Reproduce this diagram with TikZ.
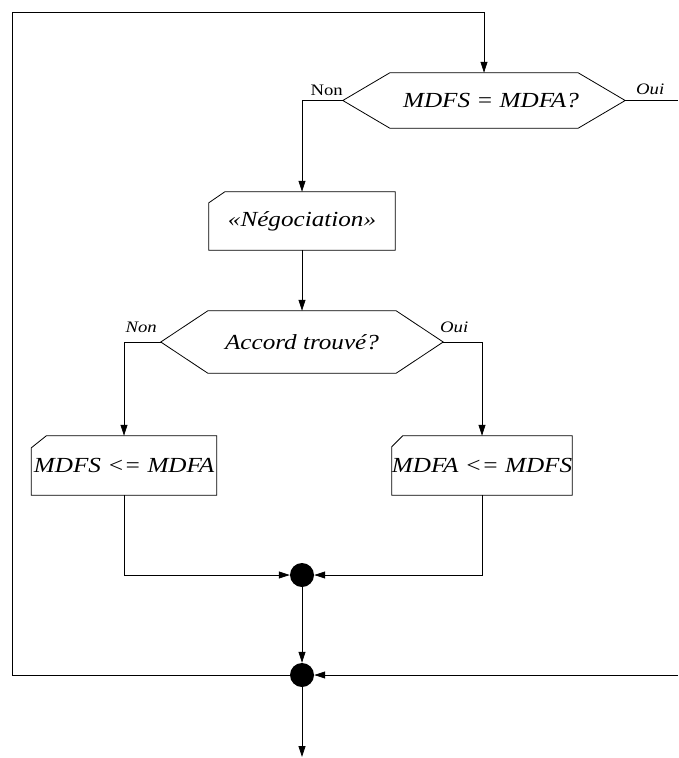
\documentclass[tikz,border=0pt]{standalone}
\usepackage{fontspec}
\setmainfont{Liberation Serif}
\newfontfamily\labfont[FakeStretch=1.17]{Liberation Serif}
\usetikzlibrary{arrows.meta,calc}
\begin{document}
\begin{tikzpicture}[x=1pt,y=-1pt,
  line/.style={line width=0.8pt},
  arr/.style={line, -{Triangle[length=11pt,width=7pt]}},
  txt/.style={font=\labfont\fontsize{21.5}{26}\selectfont\itshape, inner sep=0pt},
  lbl/.style={font=\labfont\fontsize{16}{19}\selectfont, inner sep=0pt},
  dot/.style={circle, fill=black, minimum size=24pt, inner sep=0pt},
  hexbox/.style={txt, minimum width=282pt},
  cutbox/.style={txt, minimum height=59pt},
]
\useasboundingbox (0,0) rectangle (678,758);

% decision 1
\node[hexbox, minimum height=55pt] (d1) at (484,100.5) {};
\node[txt] (d1t) at (491,100.5) {MDFS = MDFA?};
\draw[line] (d1.west) -- ($(d1.north west)+(47,0)$) -- ($(d1.north east)+(-47,0)$)
  -- (d1.east) -- ($(d1.south east)+(-47,0)$) -- ($(d1.south west)+(47,0)$) -- cycle;

% negotiation box
\node[cutbox, minimum width=186pt, minimum height=58pt] (neg) at (302,221) {«Négociation»};
\draw[line] (neg.south west) -- (neg.south east) -- (neg.north east)
  -- ($(neg.north west)+(16,0)$) -- ($(neg.north west)+(0,11)$) -- cycle;

% decision 2
\node[hexbox, minimum height=62pt] (d2) at (302,342) {Accord trouvé?};
\draw[line] (d2.west) -- ($(d2.north west)+(47,0)$) -- ($(d2.north east)+(-47,0)$)
  -- (d2.east) -- ($(d2.south east)+(-47,0)$) -- ($(d2.south west)+(47,0)$) -- cycle;

% result boxes
\node[cutbox, minimum width=185pt] (lbox) at (124,465.5) {MDFS <= MDFA};
\draw[line] (lbox.south west) -- (lbox.south east) -- (lbox.north east)
  -- ($(lbox.north west)+(15,0)$) -- ($(lbox.north west)+(0,12)$) -- cycle;
\node[cutbox, minimum width=180pt] (rbox) at (482,465.5) {MDFA <= MDFS};
\draw[line] (rbox.south west) -- (rbox.south east) -- (rbox.north east)
  -- ($(rbox.north west)+(11,0)$) -- ($(rbox.north west)+(0,11)$) -- cycle;

% junctions
\node[dot] (j1) at (302,575) {};
\node[dot] (j2) at (302,675) {};

% labels
\node[lbl, anchor=base east] (non1) at (343,95) {Non};
\node[lbl, anchor=base west] (oui1) at (636,94) {\itshape Oui};
\node[lbl, anchor=base east] (non2) at (157,332) {\itshape Non};
\node[lbl, anchor=base west] (oui2) at (440,332) {\itshape Oui};

% free ends
\coordinate (bl) at (12,675);
\coordinate (tl) at (12,12);
\coordinate (ouiend) at (678,100.5);
\coordinate (rend) at (678,675);
\coordinate (bottom) at (302,757);

% connectors
\draw[arr] (j2.west) -- (bl) -- (tl) -| (d1.north);
\draw[line] (d1.east) -- (ouiend);
\draw[arr] (d1.west) -| (neg.north);
\draw[arr] (neg.south) -- (d2.north);
\draw[arr] (d2.west) -| (lbox.north);
\draw[arr] (d2.east) -| (rbox.north);
\draw[arr] (lbox.south) |- (j1.west);
\draw[arr] (rbox.south) |- (j1.east);
\draw[arr] (j1.south) -- (j2.north);
\draw[arr] (rend) -- (j2.east);
\draw[arr] (j2.south) -- (bottom);
\end{tikzpicture}
\end{document}
